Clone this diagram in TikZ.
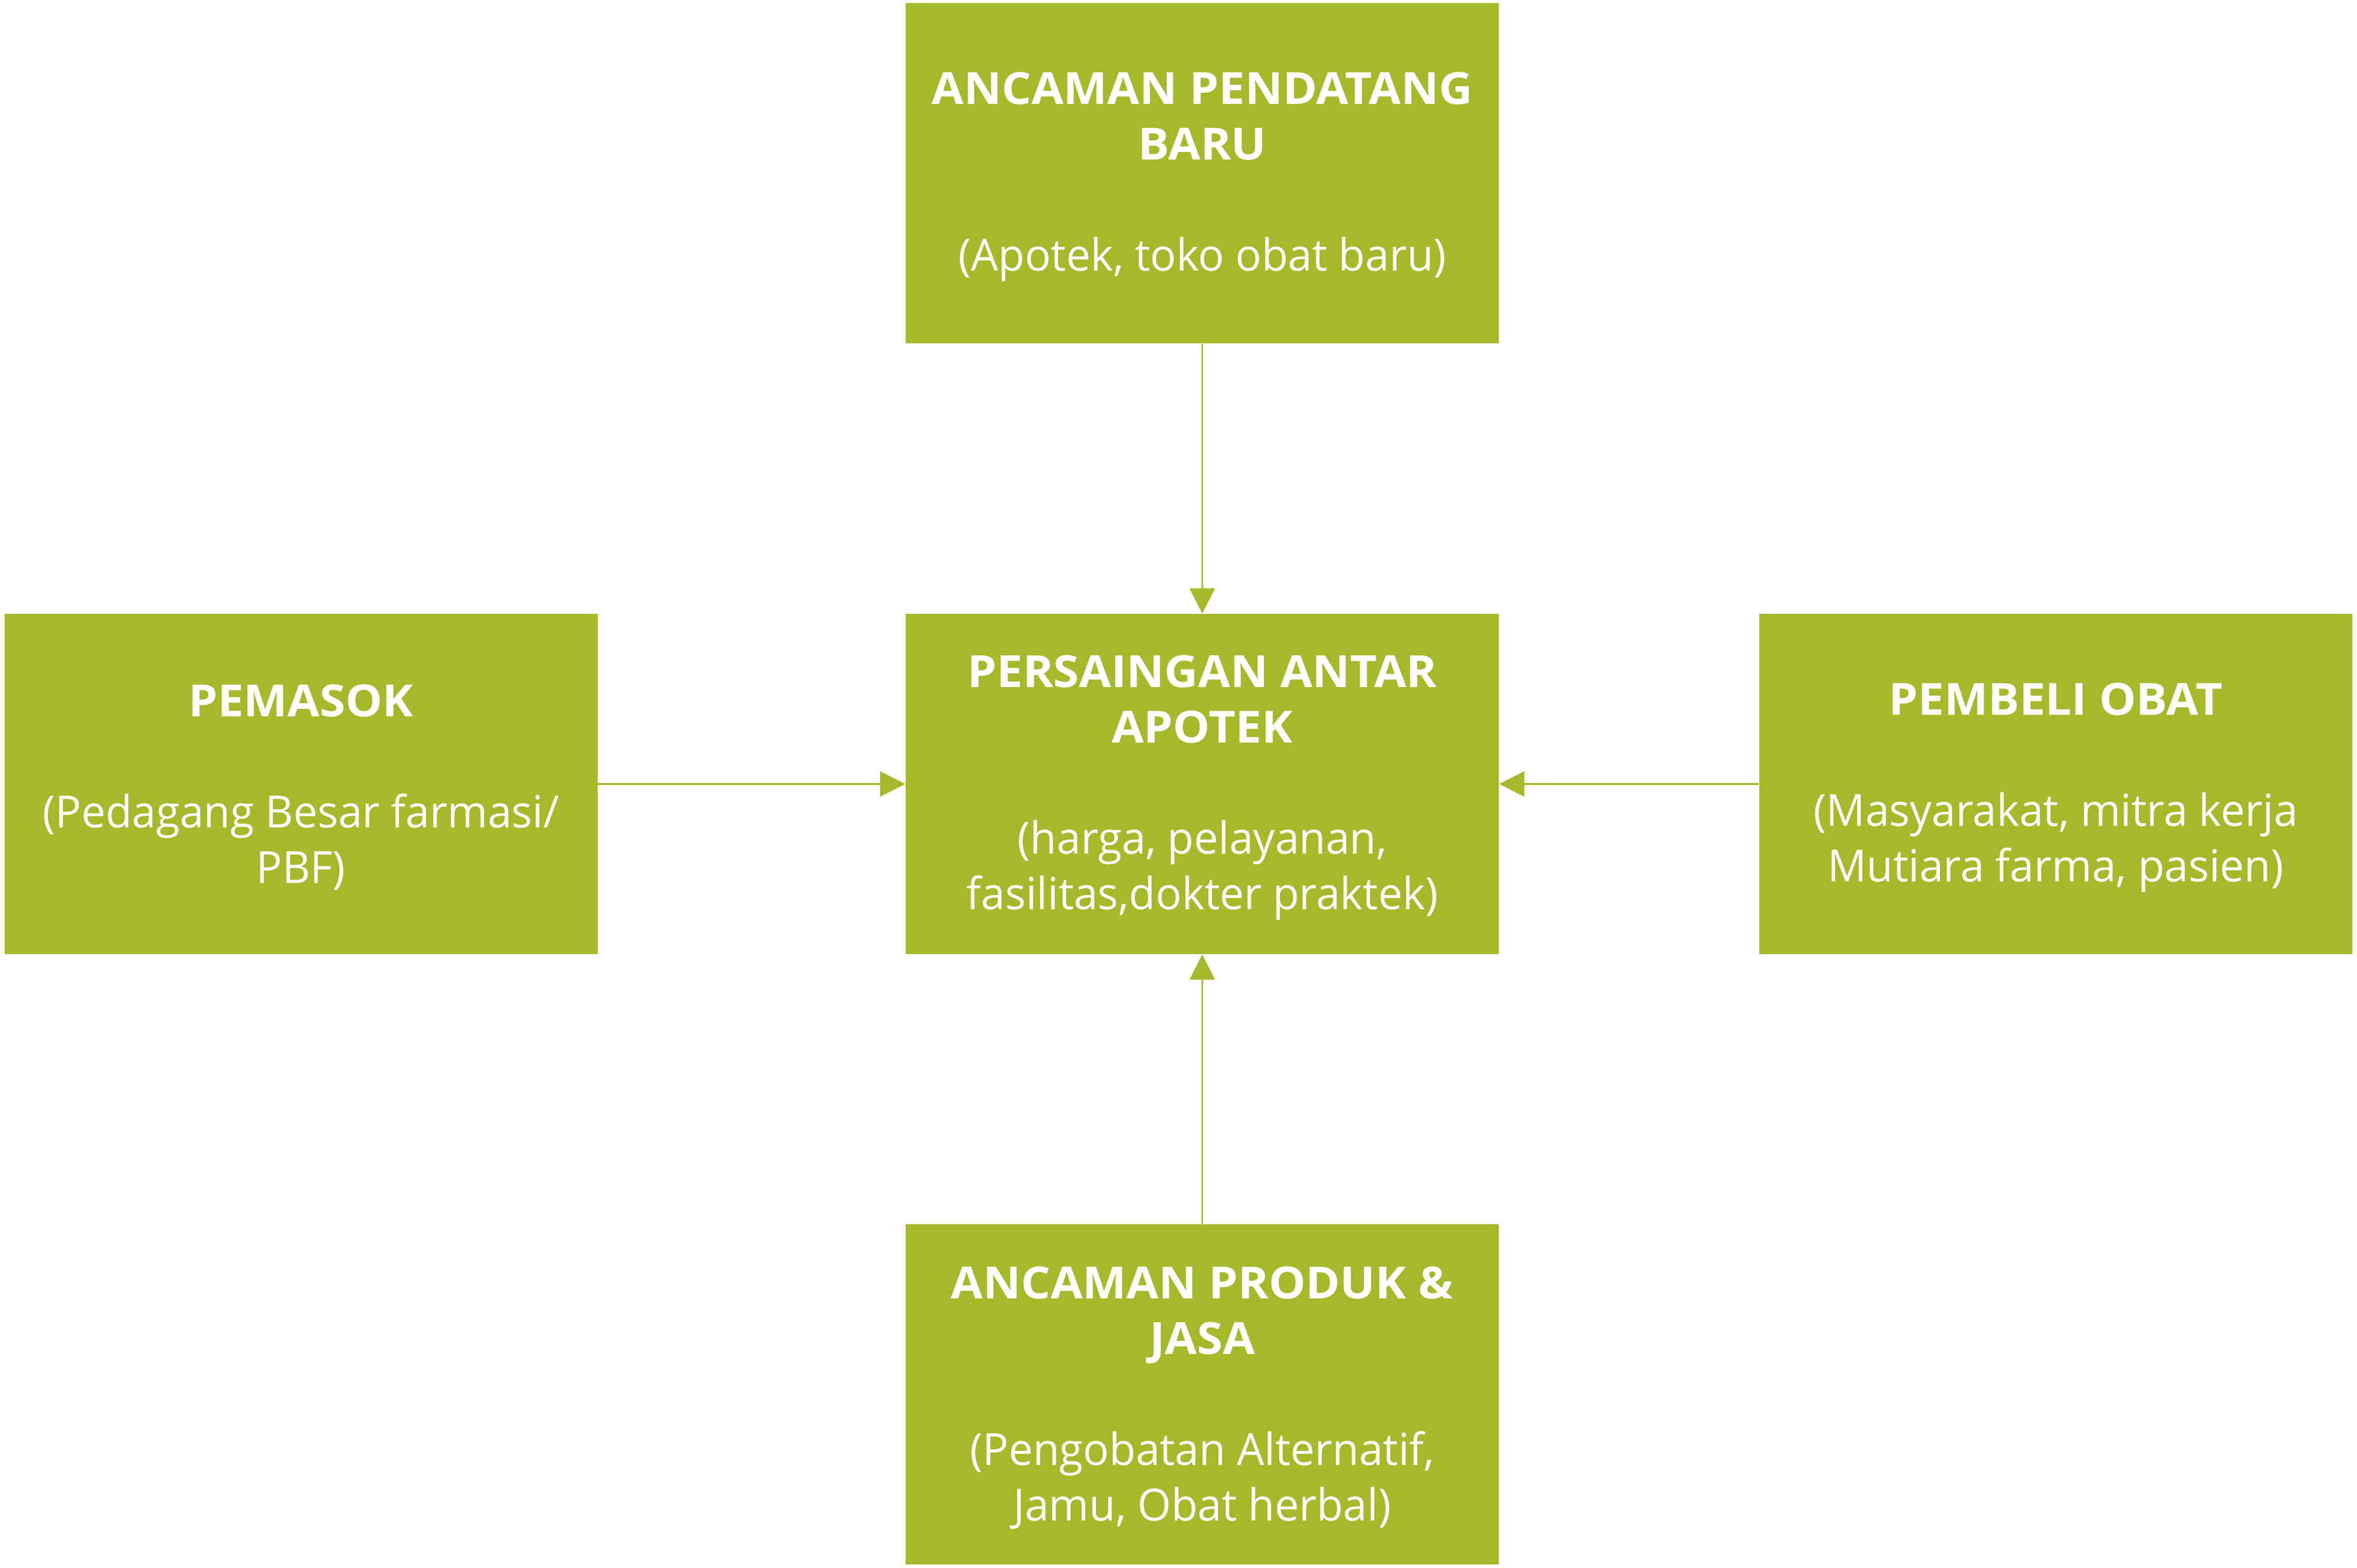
\documentclass[tikz,border=0pt]{standalone}
\usepackage{fontspec}
\setmainfont{Open Sans}[FakeStretch=0.975]
\newfontfamily\headfont{Open Sans}[FakeStretch=1.05]
\usetikzlibrary{arrows.meta}
\definecolor{boxgreen}{RGB}{166,185,43}
\newcommand{\hd}[1]{{\headfont\bfseries #1}}
\newcommand{\hdfirst}[1]{\rule{0pt}{22pt}{\headfont\bfseries #1}}
\begin{document}
\begin{tikzpicture}[
  box/.style={fill=boxgreen, minimum width=11.75cm, minimum height=6.74cm, inner sep=0pt, text=white, align=center, font=\fontsize{25}{31.3}\selectfont},
  conn/.style={draw=boxgreen, line width=0.9pt, -{Triangle[length=0.5cm,width=0.5cm]}}
]
\useasboundingbox (0,0) rectangle (46.69,31.06);
\node[box] (top) at (23.815,27.63) {\hdfirst{ANCAMAN PENDATANG}\\\hd{BARU}\\[1.1cm](Apotek, toko obat baru)};
\node[box] (mid) at (23.815,15.53) {\hdfirst{PERSAINGAN ANTAR}\\\hd{APOTEK}\\[1.1cm](harga, pelayanan,\\fasilitas,dokter praktek)};
\node[box] (left) at (5.96,15.53) {\hdfirst{PEMASOK}\\[1.1cm](Pedagang Besar farmasi/\\PBF)};
\node[box] (right) at (40.72,15.53) {\hdfirst{PEMBELI OBAT}\\[1.1cm](Masyarakat, mitra kerja\\Mutiara farma, pasien)};
\node[box] (bot) at (23.815,3.44) {\hdfirst{ANCAMAN PRODUK \&}\\\hd{JASA}\\[1.1cm](Pengobatan Alternatif,\\Jamu, Obat herbal)};
\draw[conn] (top) -- (mid);
\draw[conn] (left) -- (mid);
\draw[conn] (right) -- (mid);
\draw[conn] (bot) -- (mid);
\end{tikzpicture}
\end{document}
